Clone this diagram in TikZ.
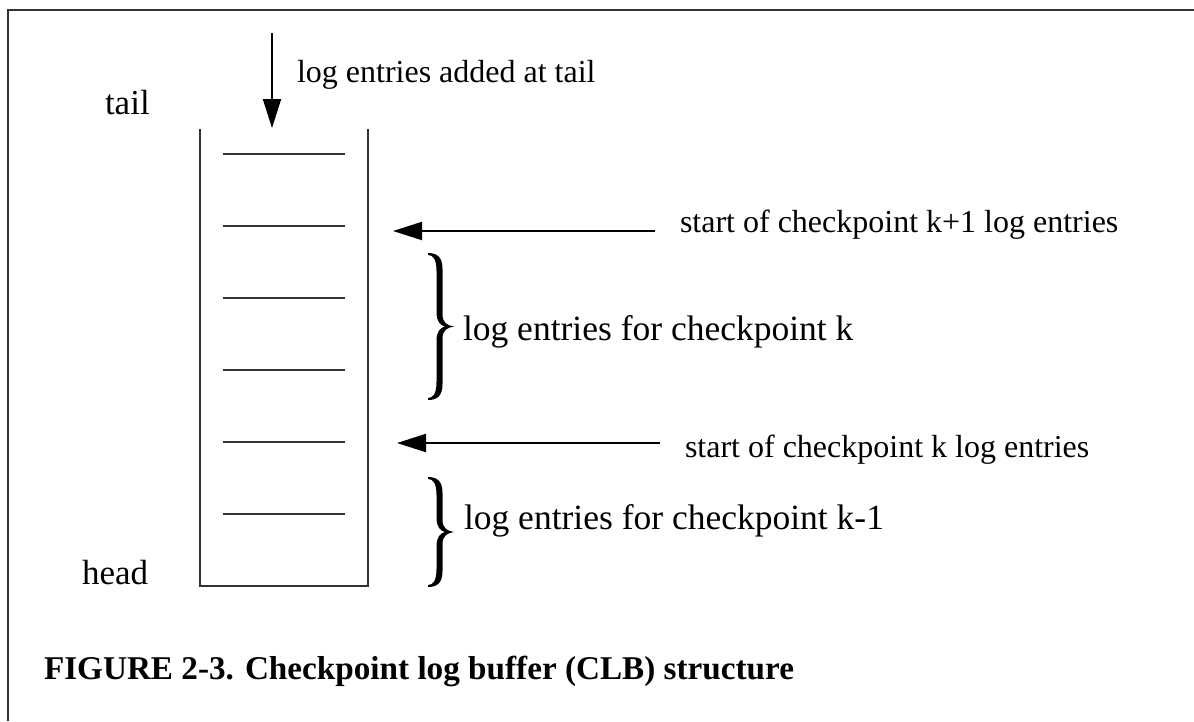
\documentclass[tikz,border=0pt]{standalone}
\usepackage{fontspec}
\setmainfont{Liberation Serif}
\usetikzlibrary{arrows.meta}

\definecolor{ink}{rgb}{0.2,0.2,0.2}

% right-facing curly brace drawn as a filled outline:
% #1 = left x, #2 = top y, #3 = bottom y  (y grows downward)
\newcommand{\clbbrace}[3]{%
  \pgfmathsetmacro{\bx}{#1}%
  \pgfmathsetmacro{\bt}{#2}%
  \pgfmathsetmacro{\bb}{#3}%
  \pgfmathsetmacro{\bm}{(#2+#3)/2}%
  \fill[black]
    (\bx,\bt)
      .. controls (\bx+9,\bt) and (\bx+14.5,\bt+4) .. (\bx+14.5,\bt+16)
      -- (\bx+14.5,\bm-12)
      .. controls (\bx+14.5,\bm-4) and (\bx+19,\bm-0.9) .. (\bx+26,\bm)
      .. controls (\bx+19,\bm+0.9) and (\bx+14.5,\bm+4) .. (\bx+14.5,\bm+12)
      -- (\bx+14.5,\bb-16)
      .. controls (\bx+14.5,\bb-4) and (\bx+9,\bb) .. (\bx,\bb)
      -- (\bx,\bb-2)
      .. controls (\bx+5,\bb-2) and (\bx+8.5,\bb-6) .. (\bx+8.5,\bb-18)
      -- (\bx+8.5,\bm+14)
      .. controls (\bx+8.5,\bm+5) and (\bx+12.5,\bm+1) .. (\bx+17,\bm)
      .. controls (\bx+12.5,\bm-1) and (\bx+8.5,\bm-5) .. (\bx+8.5,\bm-14)
      -- (\bx+8.5,\bt+18)
      .. controls (\bx+8.5,\bt+6) and (\bx+5,\bt+2) .. (\bx,\bt+2)
      -- cycle;
}

\begin{document}
\begin{tikzpicture}[x=1pt,y=-1pt,
  every node/.style={inner sep=0pt,outer sep=0pt,anchor=base west,text=black},
  smalltext/.style={font=\fontsize{32}{38}\selectfont},
  bigtext/.style={font=\fontsize{35.5}{42}\selectfont},
  endtext/.style={font=\fontsize{35}{42}\selectfont},
  captext/.style={font=\fontsize{33.2}{40}\selectfont\bfseries},
  rule/.style={draw=ink,line width=2pt},
  pointer/.style={draw=black,line width=2pt,
    -{Triangle[length=29pt,width=18pt]}},
]
\useasboundingbox (0,0) rectangle (1194,721);

% frame (top and left edges)
\draw[rule] (8,721) -- (8,10) -- (1194,10);

% buffer walls and floor
\draw[rule] (200,129) -- (200,586) -- (368,586) -- (368,129);

% entry separators
\foreach \y [count=\i] in {154,226,298,370,442,514} {
  \coordinate (r\i w) at (223,\y);
  \coordinate (r\i e) at (345,\y);
  \draw[rule] (r\i w) -- (r\i e);
}

% labels
\node[endtext] (tail) at (105,114) {tail};
\node[endtext] (head) at (82,584) {head};
\node[smalltext] (added) at (297,82) {log entries added at tail};
\node[smalltext] (startk1) at (680,232) {start of checkpoint k+1 log entries};
\node[smalltext] (startk) at (685,457) {start of checkpoint k log entries};
\node[bigtext] (fork) at (463,340) {log entries for checkpoint k};
\node[bigtext] (forkm) at (464,529) {log entries for checkpoint k-1};
\node[captext] (caption) at (44,679) {FIGURE 2-3. Checkpoint log buffer (CLB) structure};

% arrows
\coordinate (inS) at (272,33);
\coordinate (inE) at (272,128);
\draw[pointer] (inS) -- (inE);

\coordinate (k1S) at (655,231);
\coordinate (k1E) at (393,231);
\draw[pointer] (k1S) -- (k1E);

\coordinate (kS) at (660,443);
\coordinate (kE) at (397,443);
\draw[pointer] (kS) -- (kE);

% braces
\clbbrace{428}{253}{400}
\clbbrace{428}{477}{587}
\end{tikzpicture}
\end{document}
